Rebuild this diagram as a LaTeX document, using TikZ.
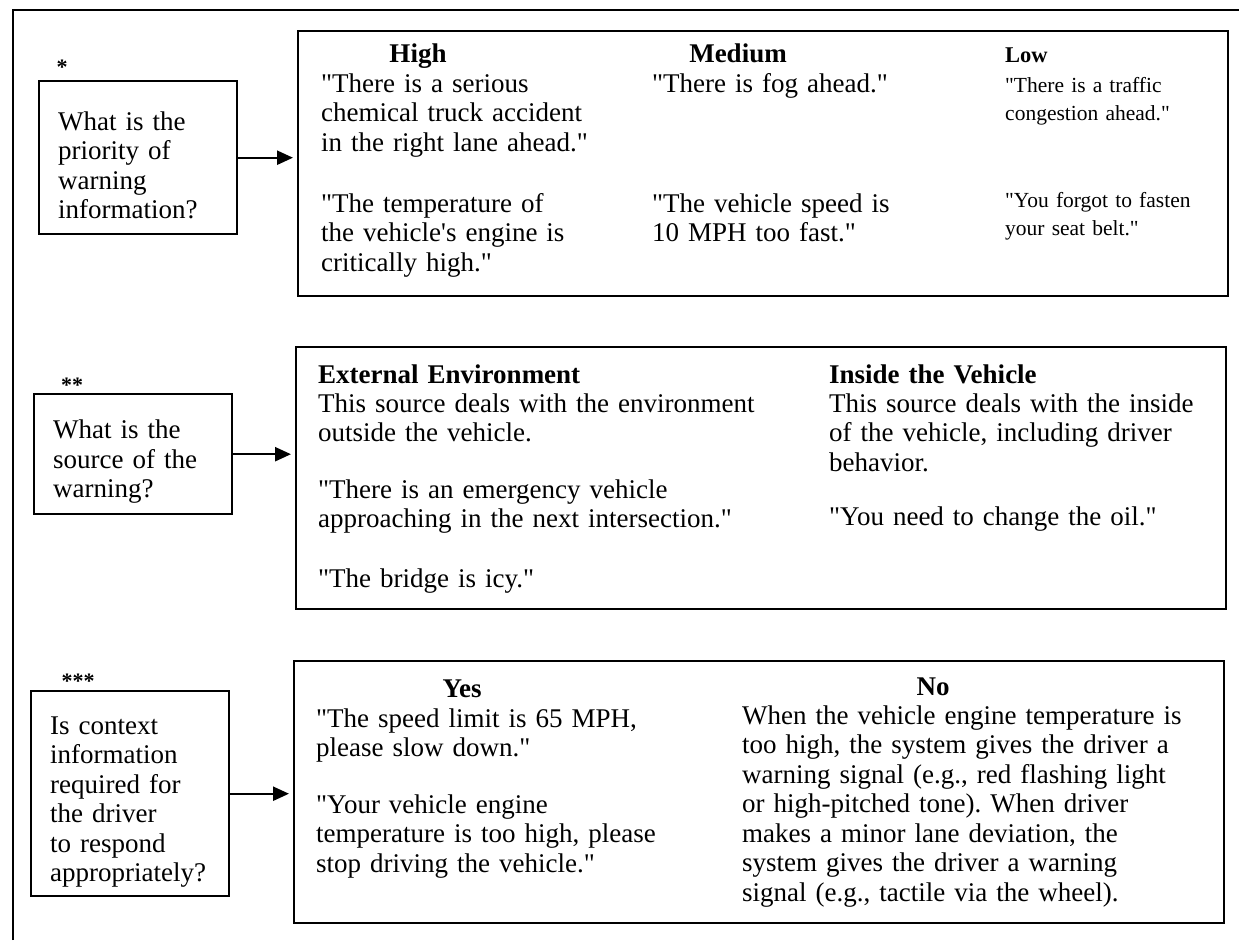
\documentclass[tikz,border=0pt]{standalone}
\usepackage{fontspec}
\setmainfont{Liberation Serif}[Ligatures=TeXOff]
\frenchspacing
\usetikzlibrary{arrows.meta}

\begin{document}
\begin{tikzpicture}[x=1pt,y=-1pt,
  txt/.style={inner sep=0pt,anchor=base west,text width=480pt,align=left,
    font=\fontsize{27}{29.5}\selectfont},
  small/.style={txt,text width=220pt,font=\fontsize{21.5}{28.3}\selectfont},
  subhead/.style={txt,font=\fontsize{27}{29.5}\selectfont\bfseries},
  head/.style={inner sep=0pt,anchor=base,font=\fontsize{27}{29.5}\selectfont\bfseries},
  qbox/.style={draw,line width=2.4pt,anchor=north west,inner xsep=19pt,inner ysep=0pt,
    text width=160pt,text height=34pt,align=left,font=\fontsize{27}{29.5}\selectfont},
  bigbox/.style={draw,line width=2.4pt,anchor=north west,inner sep=0pt},
  starmark/.style={inner sep=0pt,anchor=base,font=\fontsize{22}{22}\selectfont\bfseries},
  arr/.style={line width=2.4pt,-{Triangle[length=16pt,width=14pt]},shorten >=4pt}]

\useasboundingbox (0,0) rectangle (1239,940);

% outer frame (only left and top show)
\draw [line width=2.4pt] (13,940) -- (13,10) -- (1239,10);

% questions
\node [starmark] (s1) at (62,74) {*};
\node [qbox,minimum height=153pt] (q1) at (38,80)
  {What is the\\priority of\\warning\\information?};

\node [starmark] (s2) at (72,392) {**};
\node [qbox,minimum height=120pt] (q2) at (33,393)
  {What is the\\source of the\\warning?};

\node [starmark] (s3) at (78,688) {***};
\node [qbox,minimum height=205pt] (q3) at (30,690)
  {Is context\\information\\required for\\the driver\\to respond\\appropriately?};

% answer boxes
\node [bigbox,minimum width=930pt,minimum height=265pt] (a1) at (297,30) {};
\node [bigbox,minimum width=930pt,minimum height=262pt] (a2) at (295,346) {};
\node [bigbox,minimum width=930pt,minimum height=262pt] (a3) at (293,660) {};

\draw [arr] (q1.east) -- (q1.east -| a1.west);
\draw [arr] (q2.east) -- (q2.east -| a2.west);
\draw [arr] (q3.east) -- (q3.east -| a3.west);

% priority
\node [head] (high) at (418,62) {High};
\node [head] (medium) at (738,62) {Medium};
\node [head,anchor=base west,font=\fontsize{22.5}{28}\selectfont\bfseries] (low) at (1005,62) {Low};

\node [txt] (high1) at (321,92) {"There is a serious\\chemical truck accident\\in the right lane ahead."};
\node [txt] (high2) at (321,212) {"The temperature of\\the vehicle's engine is\\critically high."};
\node [txt] (medium1) at (652,92) {"There is fog ahead."};
\node [txt] (medium2) at (652,212) {"The vehicle speed is\\10 MPH too fast."};
\node [small] (low1) at (1005,92) {"There is a traffic\\congestion ahead."};
\node [small] (low2) at (1005,207) {"You forgot to fasten\\your seat belt."};

% source
\node [subhead] (ext) at (318,383) {External Environment};
\node [txt] (ext1) at (318,412) {This source deals with the environment\\outside the vehicle.};
\node [txt] (ext2) at (318,498) {"There is an emergency vehicle\\approaching in the next intersection."};
\node [txt] (ext3) at (318,587) {"The bridge is icy."};

\node [subhead] (ins) at (829,383) {Inside the Vehicle};
\node [txt] (ins1) at (829,412) {This source deals with the inside\\of the vehicle, including driver\\behavior.};
\node [txt] (ins2) at (829,525) {"You need to change the oil."};

% context
\node [head] (yes) at (462,697) {Yes};
\node [head] (no) at (933,695) {No};

\node [txt] (yes1) at (316,727) {"The speed limit is 65 MPH,\\please slow down."};
\node [txt] (yes2) at (316,813) {"Your vehicle engine\\temperature is too high, please\\stop driving the vehicle."};
\node [txt] (no1) at (742,724) {When the vehicle engine temperature is\\too high, the system gives the driver a\\warning signal (e.g., red flashing light\\or high-pitched tone). When driver\\makes a minor lane deviation, the\\system gives the driver a warning\\signal (e.g., tactile via the wheel).};

\end{tikzpicture}
\end{document}
